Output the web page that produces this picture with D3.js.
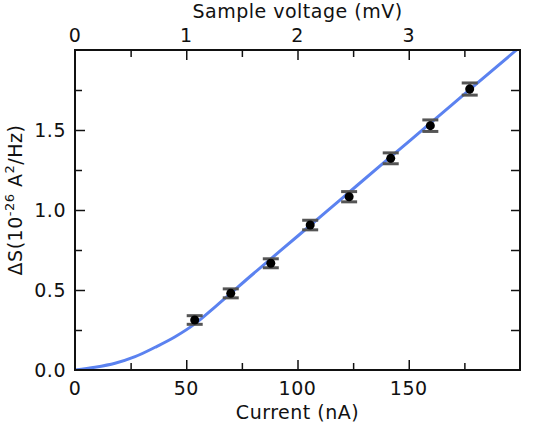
<!DOCTYPE html>
<html>
<head>
<meta charset="utf-8">
<script src="https://cdn.jsdelivr.net/npm/d3@7"></script>
<style>
  body { margin: 0; background: #fff; }
  svg text { font-family: "DejaVu Sans", Verdana, sans-serif; fill: #111; letter-spacing: 0.5px; }
</style>
</head>
<body>
<figure style="margin:0"></figure>
<script>
// measured points (current in nA, excess noise in 1e-26 A^2/Hz)
const current = [53.8, 70.0, 88.0, 105.7, 123.2, 141.9, 159.7, 177.4];
const noise = [0.3125, 0.479, 0.667, 0.906, 1.083, 1.323, 1.527, 1.756];
const noiseErr = [0.027, 0.028, 0.028, 0.03, 0.032, 0.034, 0.036, 0.038];

// fit curve
const fitCurrent = [0, 9, 18, 27, 36, 45, 54, 63, 80, 100, 120, 140, 160, 180, 198.4];
const fitNoise = [0, 0.017, 0.042, 0.083, 0.142, 0.208, 0.29, 0.395, 0.60, 0.836, 1.073, 1.31, 1.546, 1.783, 2.0];

const xTicks = [0, 50, 100, 150];
const topTicks = [0, 1, 2, 3];
const yTicks = [0, 0.5, 1.0, 1.5];

const width = 534, height = 425;
const mLeft = 75, mRight = 520, mTop = 50, mBottom = 370;
const fs = 19;

const svg = d3.select("figure")
    .append("svg")
    .attr("width", width)
    .attr("height", height);

const x = d3.scaleLinear().domain([0, 200]).range([mLeft, mRight]);
const xTop = d3.scaleLinear().domain([0, 4]).range([mLeft, mRight]); // 1 mV = 50 nA
const y = d3.scaleLinear().domain([0, 2]).range([mBottom, mTop]);

// clip so the fit stays inside the frame
svg.append("clipPath").attr("id", "plot")
    .append("rect")
    .attr("x", mLeft).attr("y", mTop)
    .attr("width", mRight - mLeft).attr("height", mBottom - mTop);

// ticks, drawn inward
function ticks(axisFn, scale, major, minor, pos, len) {
    const g = svg.append("g").attr("transform", pos);
    g.append("g").call(axisFn(scale).tickValues(minor).tickSize(-len.minor).tickFormat(""));
    g.append("g").call(axisFn(scale).tickValues(major).tickSize(-len.major).tickFormat(""));
    g.selectAll(".domain").remove();
    g.selectAll("line").attr("stroke", "#111").attr("stroke-width", 1.5);
    return g;
}
const len = { major: 10, minor: 7 };
ticks(d3.axisBottom, x, [50, 100, 150], [25, 75, 125, 175], `translate(0,${mBottom})`, len);
ticks(d3.axisTop, xTop, [1, 2, 3], [0.5, 1.5, 2.5, 3.5], `translate(0,${mTop})`, len);
ticks(d3.axisLeft, y, [0.5, 1.0, 1.5], [0.25, 0.75, 1.25, 1.75], `translate(${mLeft},0)`, len);
ticks(d3.axisRight, y, [0.5, 1.0, 1.5], [0.25, 0.75, 1.25, 1.75], `translate(${mRight},0)`, { major: 9, minor: 9 });

// tick labels
svg.append("g").selectAll("text")
    .data(xTicks).join("text")
    .attr("x", d => x(d)).attr("y", mBottom + 25)
    .attr("text-anchor", "middle").attr("font-size", fs)
    .text(d => d);

svg.append("g").selectAll("text")
    .data(topTicks).join("text")
    .attr("x", d => xTop(d)).attr("y", mTop - 8)
    .attr("text-anchor", "middle").attr("font-size", fs)
    .text(d => d);

svg.append("g").selectAll("text")
    .data(yTicks).join("text")
    .attr("x", mLeft - 9).attr("y", d => y(d) + 7)
    .attr("text-anchor", "end").attr("font-size", fs)
    .text(d => d3.format(".1f")(d));

// axis titles
svg.append("text")
    .attr("x", (mLeft + mRight) / 2).attr("y", 419)
    .attr("text-anchor", "middle").attr("font-size", fs)
    .text("Current (nA)");

svg.append("text")
    .attr("x", (mLeft + mRight) / 2).attr("y", 18)
    .attr("text-anchor", "middle").attr("font-size", fs)
    .text("Sample voltage (mV)");

const yt = svg.append("text")
    .attr("transform", `translate(22,200) rotate(-90)`)
    .attr("text-anchor", "middle").attr("font-size", fs);
yt.append("tspan").text("ΔS(10");
yt.append("tspan").attr("dy", -8).attr("font-size", 13).text("-26");
yt.append("tspan").attr("dy", 8).text(" A");
yt.append("tspan").attr("dy", -8).attr("font-size", 13).text("2");
yt.append("tspan").attr("dy", 8).text("/Hz)");

// fit line
const fit = fitCurrent.map((c, i) => [c, fitNoise[i]]);
svg.append("path")
    .datum(fit)
    .attr("clip-path", "url(#plot)")
    .attr("fill", "none")
    .attr("stroke", "#5b82f0")
    .attr("stroke-width", 3)
    .attr("d", d3.line().x(d => x(d[0])).y(d => y(d[1])).curve(d3.curveMonotoneX));

// error bars
const pts = current.map((c, i) => ({ c: c, s: noise[i], e: noiseErr[i] }));
const eb = svg.append("g").attr("stroke", "#555").attr("stroke-width", 3);
eb.selectAll(".v").data(pts).join("line")
    .attr("x1", d => x(d.c)).attr("x2", d => x(d.c))
    .attr("y1", d => y(d.s - d.e)).attr("y2", d => y(d.s + d.e));
eb.selectAll(".lo").data(pts).join("line")
    .attr("x1", d => x(d.c) - 8).attr("x2", d => x(d.c) + 8)
    .attr("y1", d => y(d.s - d.e)).attr("y2", d => y(d.s - d.e));
eb.selectAll(".hi").data(pts).join("line")
    .attr("x1", d => x(d.c) - 8).attr("x2", d => x(d.c) + 8)
    .attr("y1", d => y(d.s + d.e)).attr("y2", d => y(d.s + d.e));

// points
svg.append("g").selectAll("circle")
    .data(pts).join("circle")
    .attr("cx", d => x(d.c)).attr("cy", d => y(d.s))
    .attr("r", 4.5).attr("fill", "#000");

// frame
svg.append("rect")
    .attr("x", mLeft).attr("y", mTop)
    .attr("width", mRight - mLeft).attr("height", mBottom - mTop)
    .attr("fill", "none").attr("stroke", "#111").attr("stroke-width", 2);
</script>
</body>
</html>
